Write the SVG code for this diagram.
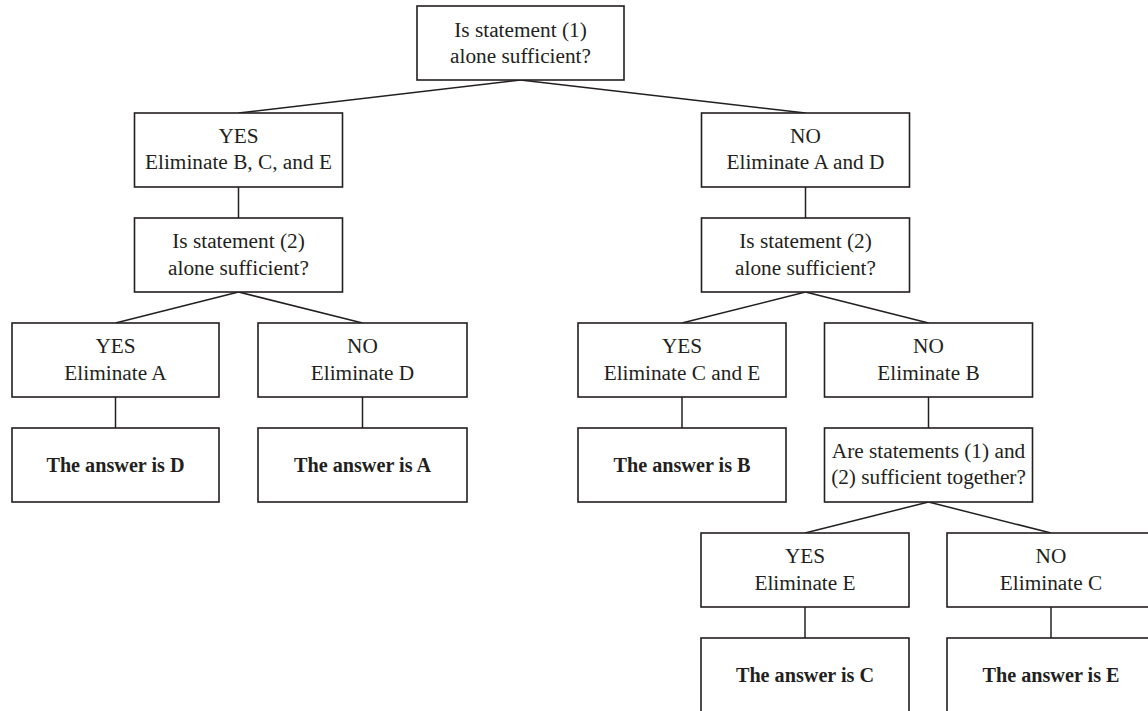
<svg xmlns="http://www.w3.org/2000/svg" width="1148" height="711" viewBox="0 0 1148 711">
<style>
.box{fill:#fff;stroke:#231f20;stroke-width:1.6}
.t{font-family:"Liberation Serif","Times New Roman",serif;font-size:21.3px;fill:#231f20;text-anchor:middle}
.b{font-family:"Liberation Serif","Times New Roman",serif;font-size:20.2px;font-weight:bold;fill:#231f20;text-anchor:middle}
.c{stroke:#231f20;stroke-width:1.5;fill:none}
</style>
<rect width="1148" height="711" fill="#fff"/>
<g id="connectors" class="c">
<line x1="520.5" y1="80" x2="238.5" y2="113"/>
<line x1="520.5" y1="80" x2="805.5" y2="113"/>
<line x1="238.5" y1="187" x2="238.5" y2="218"/>
<line x1="805.5" y1="187" x2="805.5" y2="218"/>
<line x1="238.5" y1="292" x2="115.5" y2="323"/>
<line x1="238.5" y1="292" x2="362.5" y2="323"/>
<line x1="805.5" y1="292" x2="682" y2="323"/>
<line x1="805.5" y1="292" x2="928.5" y2="323"/>
<line x1="115.5" y1="397" x2="115.5" y2="428"/>
<line x1="362.5" y1="397" x2="362.5" y2="428"/>
<line x1="682" y1="397" x2="682" y2="428"/>
<line x1="928.5" y1="397" x2="928.5" y2="428"/>
<line x1="928.5" y1="502" x2="805" y2="533"/>
<line x1="928.5" y1="502" x2="1051" y2="533"/>
<line x1="805" y1="607" x2="805" y2="638"/>
<line x1="1051" y1="607" x2="1051" y2="638"/>
</g>
<g id="q1"><rect class="box" x="417" y="6" width="207" height="74"/>
<text class="t" x="520.5" y="37">Is statement (1)</text><text class="t" x="520.5" y="62.5">alone sufficient?</text></g>
<g id="yes1"><rect class="box" x="134.5" y="113" width="208" height="74"/>
<text class="t" x="238.5" y="142.5">YES</text><text class="t" x="238.5" y="169">Eliminate B, C, and E</text></g>
<g id="no1"><rect class="box" x="701.5" y="113" width="208" height="74"/>
<text class="t" x="805.5" y="142.5">NO</text><text class="t" x="805.5" y="169">Eliminate A and D</text></g>
<g id="q2L"><rect class="box" x="134.5" y="218" width="208" height="74"/>
<text class="t" x="238.5" y="248">Is statement (2)</text><text class="t" x="238.5" y="274.5">alone sufficient?</text></g>
<g id="q2R"><rect class="box" x="701.5" y="218" width="208" height="74"/>
<text class="t" x="805.5" y="248">Is statement (2)</text><text class="t" x="805.5" y="274.5">alone sufficient?</text></g>
<g id="yesL"><rect class="box" x="12" y="323" width="207" height="74"/>
<text class="t" x="115.5" y="352.5">YES</text><text class="t" x="115.5" y="379.5">Eliminate A</text></g>
<g id="noL"><rect class="box" x="258" y="323" width="209" height="74"/>
<text class="t" x="362.5" y="352.5">NO</text><text class="t" x="362.5" y="379.5">Eliminate D</text></g>
<g id="yesR"><rect class="box" x="578" y="323" width="208" height="74"/>
<text class="t" x="682" y="352.5">YES</text><text class="t" x="682" y="379.5">Eliminate C and E</text></g>
<g id="noR"><rect class="box" x="824.5" y="323" width="208" height="74"/>
<text class="t" x="928.5" y="352.5">NO</text><text class="t" x="928.5" y="379.5">Eliminate B</text></g>
<g id="ansD"><rect class="box" x="12" y="428" width="207" height="74"/>
<text class="b" x="115.5" y="471.5">The answer is D</text></g>
<g id="ansA"><rect class="box" x="258" y="428" width="209" height="74"/>
<text class="b" x="362.5" y="471.5">The answer is A</text></g>
<g id="ansB"><rect class="box" x="578" y="428" width="208" height="74"/>
<text class="b" x="682" y="471.5">The answer is B</text></g>
<g id="q3"><rect class="box" x="824.5" y="428" width="208" height="74"/>
<text class="t" x="928.5" y="457.5">Are statements (1) and</text><text class="t" x="928.5" y="483.5">(2) sufficient together?</text></g>
<g id="yes3"><rect class="box" x="701" y="533" width="208" height="74"/>
<text class="t" x="805" y="562.5">YES</text><text class="t" x="805" y="589.5">Eliminate E</text></g>
<g id="no3"><rect class="box" x="947" y="533" width="208" height="74"/>
<text class="t" x="1051" y="562.5">NO</text><text class="t" x="1051" y="589.5">Eliminate C</text></g>
<g id="ansC"><rect class="box" x="701" y="638" width="208" height="74"/>
<text class="b" x="805" y="681.5">The answer is C</text></g>
<g id="ansE"><rect class="box" x="947" y="638" width="208" height="74"/>
<text class="b" x="1051" y="681.5">The answer is E</text></g>
</svg>
